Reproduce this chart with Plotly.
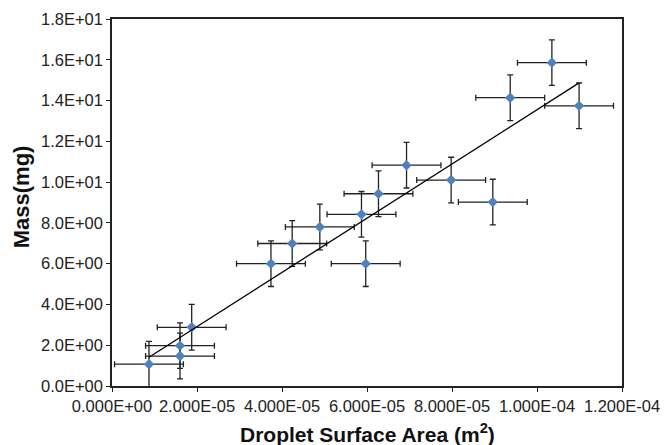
import numpy as np
import plotly.graph_objects as go

# droplet surface area (m^2) and mass (mg)
area = [0.87e-5, 1.60e-5, 1.60e-5, 1.875e-5, 3.74e-5, 4.24e-5, 4.89e-5, 5.87e-5, 5.97e-5,
        6.27e-5, 6.93e-5, 7.98e-5, 8.96e-5, 9.37e-5, 10.35e-5, 10.99e-5]
mass = [1.07, 1.98, 1.47, 2.88, 6.0, 6.99, 7.8, 8.42, 6.0,
        9.43, 10.83, 10.1, 9.02, 14.14, 15.86, 13.74]
area_err = [8.1e-6] * len(area)
mass_err = [1.12] * len(mass)

x_ticks = [0, 2e-5, 4e-5, 6e-5, 8e-5, 1e-4, 1.2e-4]
x_labels = ["0.000E+00", "2.000E-05", "4.000E-05", "6.000E-05", "8.000E-05", "1.000E-04", "1.200E-04"]
y_ticks = [0, 2, 4, 6, 8, 10, 12, 14, 16, 18]
y_labels = ["0.0E+00", "2.0E+00", "4.0E+00", "6.0E+00", "8.0E+00", "1.0E+01",
            "1.2E+01", "1.4E+01", "1.6E+01", "1.8E+01"]

# linear trendline
slope, icpt = np.polyfit(area, mass, 1)
fit_x = [min(area), max(area)]
fit_y = [slope * v + icpt for v in fit_x]

fig = go.Figure()
fig.add_trace(go.Scatter(
    x=area, y=mass, mode="markers",
    marker=dict(symbol="diamond", size=8, color="#4F81BD"),
    error_x=dict(type="data", array=area_err, color="#222", thickness=1.3, width=3),
    error_y=dict(type="data", array=mass_err, color="#222", thickness=1.3, width=3),
    showlegend=False,
))
fig.add_trace(go.Scatter(x=fit_x, y=fit_y, mode="lines",
                         line=dict(color="black", width=1.3), showlegend=False))

axis_style = dict(showline=True, linecolor="#222", linewidth=1.5, mirror=True,
                  showgrid=False, zeroline=False, ticks="outside", ticklen=4,
                  tickcolor="#222", automargin=False,
                  tickfont=dict(size=16.5, color="#222"))
fig.update_xaxes(range=[0, 1.2e-4], tickvals=x_ticks, ticktext=x_labels, **axis_style)
fig.update_yaxes(range=[0, 18], tickvals=y_ticks, ticktext=y_labels, **axis_style)

fig.add_annotation(text="<b>Droplet Surface Area (m<sup>2</sup>)</b>", xref="paper", yref="paper",
                   x=0.5, y=-0.128, yanchor="middle", showarrow=False,
                   font=dict(size=21, color="#111", family="Liberation Sans, Arial"))
fig.add_annotation(text="<b>Mass(mg)</b>", xref="paper", yref="paper", textangle=-90,
                   x=-0.176, y=0.515, xanchor="center", showarrow=False,
                   font=dict(size=22, color="#111", family="Liberation Sans, Arial"))

fig.update_layout(
    width=664, height=445,
    margin=dict(l=112, r=42, t=19, b=59),
    paper_bgcolor="white", plot_bgcolor="white",
    font=dict(family="Liberation Sans, Arial", color="#222"),
)
# drop the page's default body margin so the figure sits at the top-left corner
fig.write_html("out.html", config={"displayModeBar": False},
               post_script="document.body.style.margin='0';")
